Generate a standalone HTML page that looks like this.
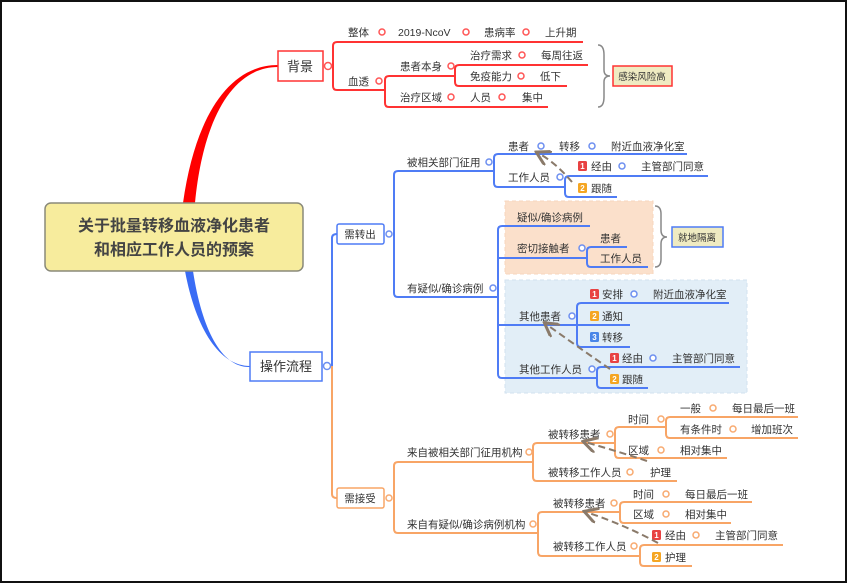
<!DOCTYPE html>
<html><head><meta charset="utf-8"><style>
html,body{margin:0;padding:0;background:#fff}
svg{display:block}
text{font-family:"Liberation Sans","Noto Sans CJK SC",sans-serif;font-size:10.5px;fill:#333}
.r{fill:none;stroke:#f33;stroke-width:2}
.b{fill:none;stroke:#4f7cf5;stroke-width:2}
.o{fill:none;stroke:#f8a566;stroke-width:2}
.cr{fill:#fff;stroke:#f55;stroke-width:1.5}
.cb{fill:#fff;stroke:#6d8ff0;stroke-width:1.5}
.co{fill:#fff;stroke:#f8aa70;stroke-width:1.5}
.bn{font-size:8px;fill:#fff;font-weight:bold}
.ar{fill:none;stroke:#8a7a6a;stroke-width:2;stroke-dasharray:7 4}
</style></head><body>
<svg width="847" height="583" viewBox="0 0 847 583" xmlns="http://www.w3.org/2000/svg">
<defs><marker id="ah" markerWidth="8" markerHeight="8" refX="6" refY="4" orient="auto"><path d="M0,0 L7,4 L0,8" fill="none" stroke="#8a7a6a" stroke-width="1.5"/></marker></defs>
<rect x="1" y="1" width="845" height="581" fill="#fff" stroke="#111" stroke-width="2"/>

<!-- main curves -->
<path d="M183,203 C195,118 228,65 278,65 L278,67 C232,67 203,120 195,203 Z" fill="#f00"/>
<path d="M185,271 C196,330 220,366 250,366 L250,367 C222,368 202,330 193,271 Z" fill="#3a6cf5"/>

<!-- central -->
<rect x="45" y="203" width="258" height="68" rx="6" fill="#f7ec9d" stroke="#8a8a7a" stroke-width="1.5"/>
<text x="174" y="231" text-anchor="middle" style="font-size:16px;font-weight:bold;fill:#444">关于批量转移血液净化患者</text>
<text x="174" y="255" text-anchor="middle" style="font-size:16px;font-weight:bold;fill:#444">和相应工作人员的预案</text>

<!-- RED -->
<rect x="278" y="51" width="45" height="30" fill="#fff" stroke="#f33" stroke-width="1.5"/>
<text x="300" y="71" text-anchor="middle" style="font-size:13px">背景</text>
<path class="r" d="M583,42 H337 Q333,42 333,46 V86 Q333,90 337,90 H385"/>
<path class="r" d="M455,76 H389 Q385,76 385,80 V103 Q385,107 389,107 H548"/>
<path class="r" d="M588,65 H459 Q455,65 455,69 V82 Q455,86 459,86 H567"/>
<circle class="cr" cx="328" cy="66" r="3.5"/>
<text x="348" y="36">整体</text><circle class="cr" cx="382" cy="32" r="3"/>
<text x="398" y="36">2019-NcoV</text><circle class="cr" cx="466" cy="32" r="3"/>
<text x="484" y="36">患病率</text><circle class="cr" cx="526" cy="32" r="3"/>
<text x="545" y="36">上升期</text>
<text x="348" y="85">血透</text><circle class="cr" cx="379" cy="81" r="3"/>
<text x="400" y="70">患者本身</text><circle class="cr" cx="451" cy="66" r="3"/>
<text x="470" y="59">治疗需求</text><circle class="cr" cx="522" cy="55" r="3"/>
<text x="541" y="59">每周往返</text>
<text x="470" y="80">免疫能力</text><circle class="cr" cx="521" cy="76" r="3"/>
<text x="540" y="80">低下</text>
<text x="400" y="101">治疗区域</text><circle class="cr" cx="451" cy="97" r="3"/>
<text x="470" y="101">人员</text><circle class="cr" cx="502" cy="97" r="3"/>
<text x="522" y="101">集中</text>
<path d="M598,45 Q604,45 604,55 V70 Q604,76 610,76 Q604,76 604,82 V97 Q604,107 598,107" fill="none" stroke="#888" stroke-width="1.5"/>
<rect x="613" y="66" width="59" height="20" fill="#efebc2" stroke="#f33" stroke-width="1.5"/>
<text x="642" y="80" text-anchor="middle" style="font-size:9.5px">感染风险高</text>

<!-- BLUE / ORANGE trunk -->
<rect x="250" y="352" width="72" height="29" fill="#fff" stroke="#4f7cf5" stroke-width="1.5"/>
<text x="286" y="371" text-anchor="middle" style="font-size:13px">操作流程</text>
<path class="b" d="M337,234 Q332,234 332,238 V366"/>
<path class="o" d="M332,366 V494 Q332,498 337,498"/>
<circle class="cb" cx="327" cy="366" r="3.5"/>

<!-- shaded boxes -->
<rect x="505" y="201" width="148" height="73" fill="#fbe0cb" stroke="#f7d6bd" stroke-dasharray="4 3"/>
<rect x="505" y="280" width="242" height="113" fill="#e2eef7" stroke="#d2e2ef" stroke-dasharray="4 3"/>

<rect x="337" y="224" width="47" height="20" rx="2" fill="#fff" stroke="#4f7cf5" stroke-width="1.5"/>
<text x="360" y="238" text-anchor="middle">需转出</text>
<circle class="cb" cx="389" cy="234" r="3"/>
<path class="b" d="M494,171 H398 Q394,171 394,175 V293 Q394,297 398,297 H498"/>
<path class="b" d="M687,154 H498 Q494,154 494,158 V183 Q494,187 498,187 H565"/>
<path class="b" d="M708,176 H569 Q565,176 565,180 V193 Q565,197 569,197 H617"/>
<path class="b" d="M590,226 H502 Q498,226 498,230 V374 Q498,378 502,378 H597"/>
<path class="b" d="M498,258 H587 M498,325 H630"/>
<path class="b" d="M627,247 H591 Q587,247 587,251 V263 Q587,267 591,267 H648"/>
<path class="b" d="M729,303 H581 Q577,303 577,307 V343 Q577,347 581,347 H630"/>
<path class="b" d="M740,367 H601 Q597,367 597,371 V384 Q597,388 601,388 H648"/>

<text x="407" y="166">被相关部门征用</text><circle class="cb" cx="489" cy="162" r="3"/>
<text x="508" y="150">患者</text><circle class="cb" cx="541" cy="146" r="3"/>
<text x="559" y="150">转移</text><circle class="cb" cx="592" cy="146" r="3"/>
<text x="611" y="150">附近血液净化室</text>
<text x="508" y="181">工作人员</text><circle class="cb" cx="560" cy="177" r="3"/>
<rect x="578" y="161" width="9" height="10" rx="1.5" fill="#e84242"/><text class="bn" x="582.5" y="169" text-anchor="middle">1</text>
<text x="591" y="170">经由</text><circle class="cb" cx="622" cy="166" r="3"/>
<text x="641" y="170">主管部门同意</text>
<rect x="578" y="183" width="9" height="10" rx="1.5" fill="#f5a623"/><text class="bn" x="582.5" y="191" text-anchor="middle">2</text>
<text x="591" y="192">跟随</text>
<path class="ar" d="M572,182 Q555,162 538,153" marker-end="url(#ah)"/>

<text x="517" y="221">疑似/确诊病例</text>
<text x="517" y="252">密切接触者</text><circle class="cb" cx="582" cy="248" r="3"/>
<text x="600" y="242">患者</text>
<text x="600" y="262">工作人员</text>
<path d="M655,206 Q661,206 661,214 V230 Q661,237 667,237 Q661,237 661,244 V259 Q661,267 655,267" fill="none" stroke="#888" stroke-width="1.5"/>
<rect x="672" y="227" width="51" height="20" fill="#efebc2" stroke="#4f7cf5" stroke-width="1.5"/>
<text x="697" y="241" text-anchor="middle" style="font-size:9.5px">就地隔离</text>

<text x="407" y="292">有疑似/确诊病例</text><circle class="cb" cx="493" cy="288" r="3"/>
<text x="519" y="320">其他患者</text><circle class="cb" cx="572" cy="316" r="3"/>
<rect x="590" y="289" width="9" height="10" rx="1.5" fill="#e84242"/><text class="bn" x="594.5" y="297" text-anchor="middle">1</text>
<text x="602" y="298">安排</text><circle class="cb" cx="634" cy="294" r="3"/>
<text x="653" y="298">附近血液净化室</text>
<rect x="590" y="311" width="9" height="10" rx="1.5" fill="#f5a623"/><text class="bn" x="594.5" y="319" text-anchor="middle">2</text>
<text x="602" y="320">通知</text>
<rect x="590" y="332" width="9" height="10" rx="1.5" fill="#4a86e8"/><text class="bn" x="594.5" y="340" text-anchor="middle">3</text>
<text x="602" y="341">转移</text>
<text x="519" y="373">其他工作人员</text><circle class="cb" cx="592" cy="369" r="3"/>
<rect x="610" y="353" width="9" height="10" rx="1.5" fill="#e84242"/><text class="bn" x="614.5" y="361" text-anchor="middle">1</text>
<text x="622" y="362">经由</text><circle class="cb" cx="653" cy="358" r="3"/>
<text x="672" y="362">主管部门同意</text>
<rect x="610" y="374" width="9" height="10" rx="1.5" fill="#f5a623"/><text class="bn" x="614.5" y="382" text-anchor="middle">2</text>
<text x="622" y="383">跟随</text>
<path class="ar" d="M610,369 Q575,345 546,324" marker-end="url(#ah)"/>

<!-- ORANGE -->
<rect x="337" y="488" width="47" height="20" rx="2" fill="#fff" stroke="#f8a566" stroke-width="1.5"/>
<text x="360" y="502" text-anchor="middle">需接受</text>
<circle class="co" cx="389" cy="498" r="3"/>
<path class="o" d="M533,462 H398 Q394,462 394,466 V529 Q394,533 398,533 H538"/>
<path class="o" d="M615,443 H537 Q533,443 533,447 V477 Q533,481 537,481 H677"/>
<path class="o" d="M666,427 H619 Q615,427 615,431 V454 Q615,458 619,458 H727"/>
<path class="o" d="M798,417 H670 Q666,417 666,421 V434 Q666,438 670,438 H798"/>
<path class="o" d="M620,512 H542 Q538,512 538,516 V552 Q538,556 542,556 H640"/>
<path class="o" d="M752,502 H624 Q620,502 620,506 V519 Q620,523 624,523 H731"/>
<path class="o" d="M783,545 H644 Q640,545 640,549 V562 Q640,566 644,566 H692"/>

<text x="407" y="456">来自被相关部门征用机构</text><circle class="co" cx="529" cy="452" r="3"/>
<text x="548" y="438">被转移患者</text><circle class="co" cx="610" cy="434" r="3"/>
<text x="628" y="423">时间</text><circle class="co" cx="661" cy="419" r="3"/>
<text x="680" y="412">一般</text><circle class="co" cx="713" cy="408" r="3"/>
<text x="732" y="412">每日最后一班</text>
<text x="680" y="433">有条件时</text><circle class="co" cx="733" cy="429" r="3"/>
<text x="751" y="433">增加班次</text>
<text x="628" y="454">区域</text><circle class="co" cx="661" cy="450" r="3"/>
<text x="680" y="454">相对集中</text>
<text x="548" y="476">被转移工作人员</text><circle class="co" cx="630" cy="472" r="3"/>
<text x="650" y="476">护理</text>
<path class="ar" d="M647,461 Q620,452 585,442" marker-end="url(#ah)"/>

<text x="407" y="528">来自有疑似/确诊病例机构</text><circle class="co" cx="533" cy="524" r="3"/>
<text x="553" y="507">被转移患者</text><circle class="co" cx="614" cy="503" r="3"/>
<text x="633" y="498">时间</text><circle class="co" cx="666" cy="494" r="3"/>
<text x="685" y="498">每日最后一班</text>
<text x="633" y="518">区域</text><circle class="co" cx="666" cy="514" r="3"/>
<text x="685" y="518">相对集中</text>
<text x="553" y="550">被转移工作人员</text><circle class="co" cx="634" cy="546" r="3"/>
<rect x="652" y="530" width="9" height="10" rx="1.5" fill="#e84242"/><text class="bn" x="656.5" y="538" text-anchor="middle">1</text>
<text x="665" y="539">经由</text><circle class="co" cx="696" cy="535" r="3"/>
<text x="715" y="539">主管部门同意</text>
<rect x="652" y="552" width="9" height="10" rx="1.5" fill="#f5a623"/><text class="bn" x="656.5" y="560" text-anchor="middle">2</text>
<text x="665" y="561">护理</text>
<path class="ar" d="M658,543 Q625,525 586,512" marker-end="url(#ah)"/>
</svg>
</body></html>
